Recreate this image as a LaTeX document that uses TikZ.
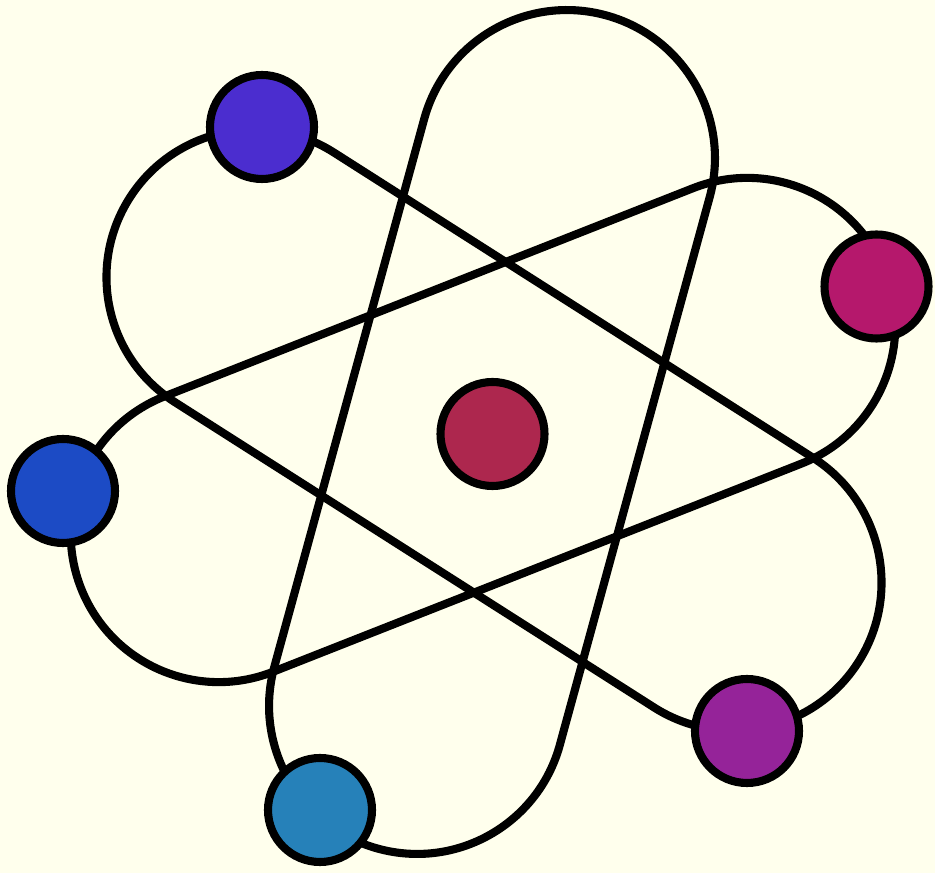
\documentclass[tikz,border=0pt]{standalone}
\usepackage{tikz}
\usetikzlibrary{positioning}
\usepackage{xcolor}
\definecolor{bgcream}{RGB}{255,255,237}
\definecolor{nucleusred}{RGB}{173,39,78}
\definecolor{violetblue}{RGB}{75,45,207}
\definecolor{magentared}{RGB}{181,24,108}
\definecolor{royalblue}{RGB}{28,75,197}
\definecolor{steelblue}{RGB}{38,129,185}
\definecolor{plumpurple}{RGB}{149,35,153}

\begin{document}
\begin{tikzpicture}[x=0.2mm, y=0.2mm,
  orbit/.style={draw=black, line width=4.6pt, line join=round},
  electron/.style={circle, draw=black, line width=4.6pt, inner sep=0pt, minimum size=2.08cm}]
  % canvas, 1 unit = 1 px of the 935x873 picture
  \fill[bgcream] (0,0) rectangle (935,873);
  \useasboundingbox (0,0) rectangle (935,873);
  % three orbits (stadiums): centre x / centre y / axis angle
  \foreach \cx/\cy/\ang in {492/441/74.7, 494/443/-32.5, 483/443/21.5}{
    \draw[orbit, shift={(\cx,\cy)}, rotate=\ang]
      (-284,-148) -- (284,-148) arc[start angle=-90, end angle=90, radius=2.96cm]
      -- (-284,148) arc[start angle=90, end angle=270, radius=2.96cm] -- cycle;
  }
  % nucleus and electrons on top of the orbits
  \node[electron, fill=nucleusred] (nucleus) at (492.5,439) {};
  \node[electron, fill=violetblue] (etopleft) at (262,746) {};
  \node[electron, fill=magentared] (eright) at (876.5,586.5) {};
  \node[electron, fill=royalblue] (eleft) at (63,382) {};
  \node[electron, fill=steelblue] (ebottom) at (320,63) {};
  \node[electron, fill=plumpurple] (ebotright) at (747,142) {};
\end{tikzpicture}
\end{document}
